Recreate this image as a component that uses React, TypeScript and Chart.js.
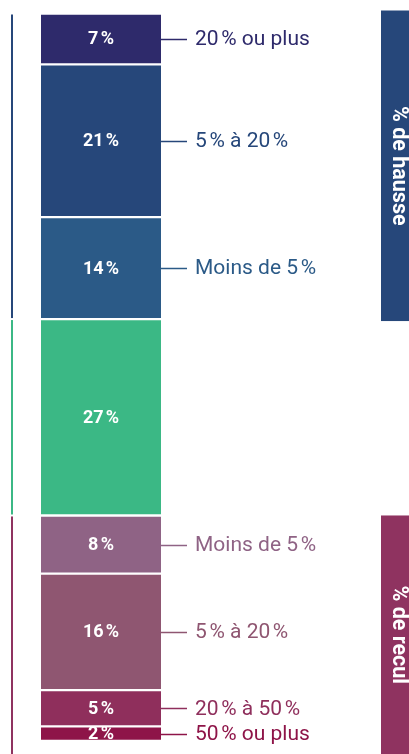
import { useEffect, useRef } from 'react';
import { Chart, registerables } from 'chart.js';

Chart.register(...registerables);

const NS = '\u202F';

// ---- Data ----
const categories = ['Variation'];
const values = [7, 21, 14, 27, 8, 16, 5, 2];
const rangeLabels = [
  `20${NS}% ou plus`,
  `5${NS}% à 20${NS}%`,
  `Moins de 5${NS}%`,
  '',
  `Moins de 5${NS}%`,
  `5${NS}% à 20${NS}%`,
  `20${NS}% à 50${NS}%`,
  `50${NS}% ou plus`,
];
const segmentGroup = [0, 0, 0, 1, 2, 2, 2, 2];
const groupTitles = ['% de hausse', '', '% de recul'];

// ---- Styles ----
const segmentColors = ['#2e2a6b', '#26477a', '#2b5a87', '#3bb885', '#8f6385', '#8f5671', '#8f2f5c', '#8e1448'];
const labelColors = ['#2e2a6b', '#26477a', '#2b5a87', '#3bb885', '#8f6385', '#8f5671', '#8f2f5c', '#8e1448'];
const groupLineColors = ['#26477a', '#3bb885', '#8f3360'];
const groupBoxColors = ['#26477a', '', '#8f3360'];

const FONT = 'Roboto, "Noto Sans", sans-serif';

const overlayPlugin = {
  id: 'overlay',
  afterDatasetsDraw(chart: any) {
    const ctx = chart.ctx as CanvasRenderingContext2D;
    const W = chart.width;
    const H = chart.height;
    const segs = values.map((v, i) => {
      const el = chart.getDatasetMeta(i).data[0];
      const top = Math.min(el.y, el.base);
      const bottom = Math.max(el.y, el.base);
      return { top, bottom, mid: (top + bottom) / 2, left: el.x - el.width / 2, right: el.x + el.width / 2, cx: el.x };
    });
    ctx.save();
    // value labels inside the bar
    ctx.fillStyle = '#ffffff';
    ctx.font = `bold 18px ${FONT}`;
    ctx.textAlign = 'center';
    ctx.textBaseline = 'middle';
    values.forEach((v, i) => {
      ctx.fillText(`${v}${NS}%`, segs[i].cx, segs[i].mid + 1);
    });
    // leader lines + range labels
    ctx.font = `21px ${FONT}`;
    ctx.textAlign = 'left';
    values.forEach((v, i) => {
      if (!rangeLabels[i]) return;
      const s = segs[i];
      ctx.strokeStyle = labelColors[i];
      ctx.lineWidth = 1.5;
      ctx.beginPath();
      ctx.moveTo(s.right, Math.round(s.mid) + 0.5);
      ctx.lineTo(s.right + 26, Math.round(s.mid) + 0.5);
      ctx.stroke();
      ctx.fillStyle = labelColors[i];
      ctx.fillText(rangeLabels[i], s.right + 34, s.mid + 1);
    });
    // group lines on the left and group boxes on the right
    groupTitles.forEach((title, g) => {
      const idx = segmentGroup.map((gg, i) => (gg === g ? i : -1)).filter((i) => i >= 0);
      const top = Math.min(...idx.map((i) => segs[i].top));
      const bottom = Math.max(...idx.map((i) => segs[i].bottom));
      const last = g === groupTitles.length - 1;
      ctx.fillStyle = groupLineColors[g];
      ctx.fillRect(11, top + 1, 2, (last ? H : bottom - 1) - (top + 1));
      if (title) {
        const bTop = g === 0 ? top - 3 : top;
        const bBottom = last ? H : bottom + 2;
        ctx.fillStyle = groupBoxColors[g];
        ctx.fillRect(381, bTop, W - 381, bBottom - bTop);
        ctx.save();
        ctx.translate(398, (bTop + bBottom) / 2);
        ctx.rotate(Math.PI / 2);
        ctx.fillStyle = '#ffffff';
        ctx.font = `bold 21.5px ${FONT}`;
        ctx.textAlign = 'center';
        ctx.textBaseline = 'middle';
        ctx.fillText(title, 0, 0);
        ctx.restore();
      }
    });
    ctx.restore();
  },
};

export default function App() {
  const ref = useRef<HTMLCanvasElement | null>(null);
  useEffect(() => {
    if (!ref.current) return;
    const chart = new Chart(ref.current, {
      type: 'bar',
      data: {
        labels: categories,
        datasets: values.map((v, i) => ({
          label: rangeLabels[i] || 'Stable',
          data: [v],
          backgroundColor: segmentColors[i],
          borderColor: '#ffffff',
          borderWidth: { top: 1.5, bottom: 1.5, left: 0, right: 0 },
          borderSkipped: false,
          barPercentage: 1,
          categoryPercentage: 1,
        })),
      },
      options: {
        responsive: false,
        animation: false,
        layout: { padding: { left: 41, right: 248, top: 13.5, bottom: 13 } },
        scales: {
          x: { stacked: true, display: false },
          y: { stacked: true, display: false, reverse: true, min: 0, max: 100 },
        },
        plugins: { legend: { display: false }, tooltip: { enabled: false } },
      },
      plugins: [overlayPlugin],
    } as any);
    return () => chart.destroy();
  }, []);
  return (
    <div style={{ position: 'absolute', left: 0, top: 0, width: 409, height: 754, background: '#fff' }}>
      <canvas ref={ref} width={409} height={754} style={{ display: 'block', width: 409, height: 754 }} />
    </div>
  );
}
